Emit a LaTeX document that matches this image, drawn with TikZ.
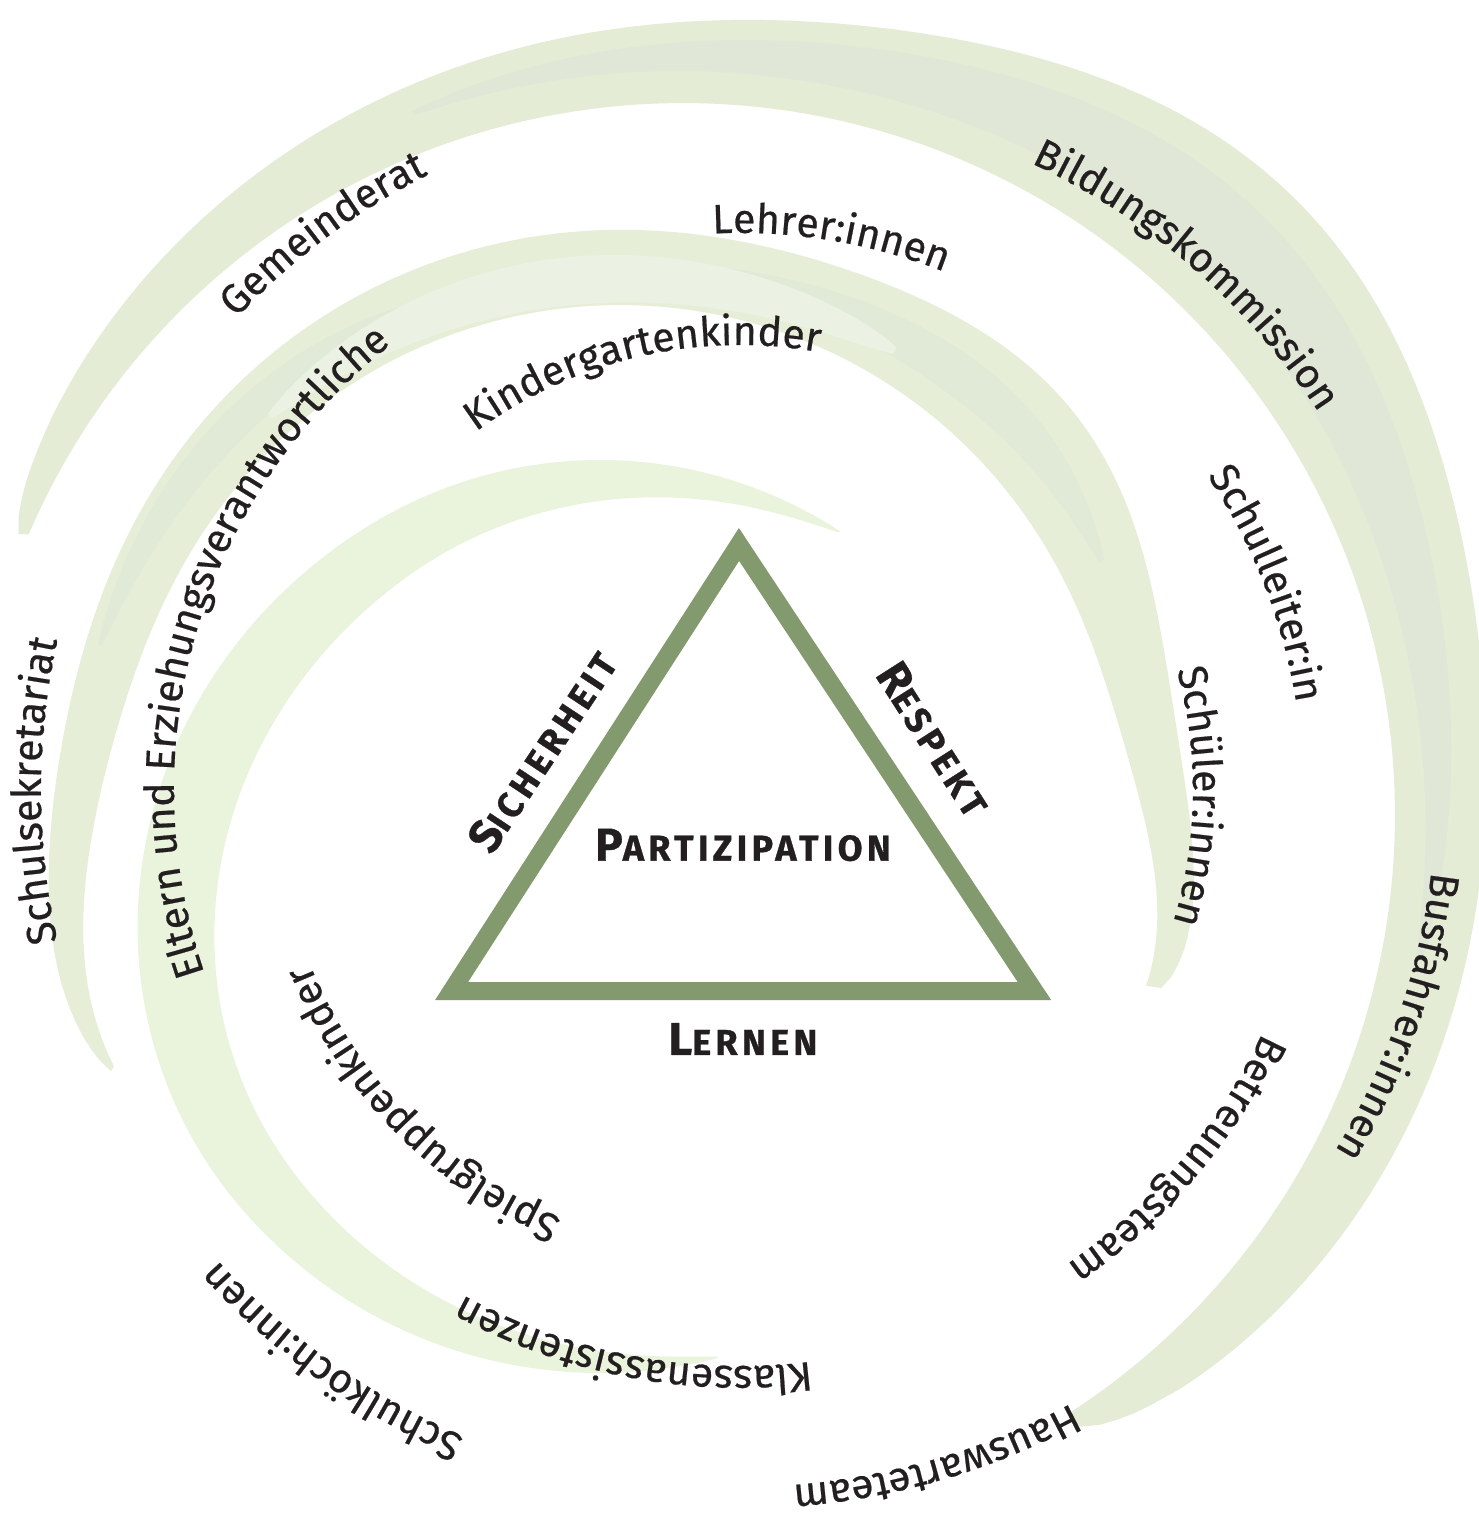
\documentclass[tikz,border=0pt]{standalone}
\usepackage{fontspec}
\setmainfont{Fira Sans}
\newfontfamily\arcfont{Fira Sans}[FakeBold=0.5]
\newfontfamily\capfont{Fira Sans}[LetterSpace=12,FakeBold=0.8]
\usetikzlibrary{decorations.text}
\definecolor{ink}{RGB}{35,31,32}
\definecolor{tricol}{RGB}{131,154,111}
\definecolor{sthree}{RGB}{228,236,214}
\definecolor{sthreedark}{RGB}{224,231,215}
\definecolor{stwo}{RGB}{230,238,216}
\definecolor{stwodark}{RGB}{225,233,215}
\definecolor{stwolight}{RGB}{236,242,227}
\definecolor{sone}{RGB}{234,243,219}
\newcommand\mysc[2]{{\fontsize{46}{46}\selectfont#1}{\fontsize{36}{36}\selectfont#2}}
\newcommand\arclabel[3]{%
  \path[decorate,decoration={text along path,text align=center,
    text={|\arcfont\fontsize{41}{41}\selectfont\color{ink}|#3}}]
    (ctr) ++(#2+80:#1) arc[start angle=#2+80, end angle=#2-80, radius=#1];}
% sub-band of the outer swoosh: colour, u start, u end, frac start, frac end, half width
\newcommand\sthreesub[6]{%
  \fill[#1] plot[domain=0.01:0.99,samples=70,variable=\v]
    ({683+rthree(#2+(#3-#2)*\v,#4+(#5-#4)*\v+#6*(sin(180*\v))^0.6)*cos(ththree(#2+(#3-#2)*\v))},
     {-815+rthree(#2+(#3-#2)*\v,#4+(#5-#4)*\v+#6*(sin(180*\v))^0.6)*sin(ththree(#2+(#3-#2)*\v))})
   -- plot[domain=0.99:0.01,samples=70,variable=\v]
    ({683+rthree(#2+(#3-#2)*\v,#4+(#5-#4)*\v-#6*(sin(180*\v))^0.6)*cos(ththree(#2+(#3-#2)*\v))},
     {-815+rthree(#2+(#3-#2)*\v,#4+(#5-#4)*\v-#6*(sin(180*\v))^0.6)*sin(ththree(#2+(#3-#2)*\v))})
   -- cycle;}
\newcommand\stwosub[6]{%
  \fill[#1] plot[domain=0.01:0.99,samples=70,variable=\v]
    ({620+rtwo(#2+(#3-#2)*\v,#4+(#5-#4)*\v+#6*(sin(180*\v))^0.6)*cos(thtwo(#2+(#3-#2)*\v))},
     {-800+rtwo(#2+(#3-#2)*\v,#4+(#5-#4)*\v+#6*(sin(180*\v))^0.6)*sin(thtwo(#2+(#3-#2)*\v))})
   -- plot[domain=0.99:0.01,samples=70,variable=\v]
    ({620+rtwo(#2+(#3-#2)*\v,#4+(#5-#4)*\v-#6*(sin(180*\v))^0.6)*cos(thtwo(#2+(#3-#2)*\v))},
     {-800+rtwo(#2+(#3-#2)*\v,#4+(#5-#4)*\v-#6*(sin(180*\v))^0.6)*sin(thtwo(#2+(#3-#2)*\v))})
   -- cycle;}
\begin{document}
\begin{tikzpicture}[x=1pt,y=1pt,
  declare function={
    wthree(\q)=145*(sin(180*\q))^0.4*(0.5+0.25*\q+0.45*exp(-min(((\q-0.52)/0.12)^2,20)));
    rthree(\q,\f)=712+wthree(\q)*\f;
    ththree(\q)=157.5-215.2*\q;
    rintwo(\q)=495+77*exp(-min((\q/0.12)^2,20))+63*exp(-min(((1-\q)/0.09)^2,20));
    wtwo(\q)=(75+40*exp(-min(((\q-0.74)/0.1)^2,20)))*(sin(180*\q))^(0.55-0.2*\q);
    rtwo(\q,\f)=rintwo(\q)+wtwo(\q)*\f;
    thtwo(\q)=208.5-228.4*\q;
    thone(\q)=56.4+228.6*\q;
    routone(\q)=440+16.5*(1-cos(180*min(max((thone(\q)-120)/100,0),1)));
    wone(\q)=78*(sin(180*\q))^0.8;
  },
  tlab/.style={font=\capfont\bfseries,text=ink,inner sep=0pt},
  tri/.style={draw=tricol,line width=18pt,miter limit=10,line join=miter}]
\useasboundingbox (0,0) rectangle (1479,-1520);
\fill[white] (0,0) rectangle (1479,-1520);
\coordinate (ctr) at (740,-790);

% outer swoosh
\fill[sthree] plot[domain=0.002:0.998,samples=160,variable=\u]
   ({683+rthree(\u,1)*cos(ththree(\u))},{-815+rthree(\u,1)*sin(ththree(\u))})
 -- plot[domain=0.998:0.002,samples=160,variable=\u]
   ({683+rthree(\u,0)*cos(ththree(\u))},{-815+rthree(\u,0)*sin(ththree(\u))}) -- cycle;
\sthreesub{sthreedark}{0.21}{0.79}{0.6}{0.45}{0.26}

% middle swoosh
\fill[stwo] plot[domain=0.002:0.998,samples=160,variable=\u]
   ({620+rtwo(\u,1)*cos(thtwo(\u))},{-800+rtwo(\u,1)*sin(thtwo(\u))})
 -- plot[domain=0.998:0.002,samples=160,variable=\u]
   ({620+rtwo(\u,0)*cos(thtwo(\u))},{-800+rtwo(\u,0)*sin(thtwo(\u))}) -- cycle;
\stwosub{stwodark}{0.195}{0.43}{0.75}{0.5}{0.22}
\stwosub{stwodark}{0.54}{0.8}{0.5}{0.5}{0.22}
\stwosub{stwolight}{0.33}{0.66}{0.35}{0.35}{0.32}

% inner swoosh
\fill[sone] plot[domain=0.002:0.998,samples=160,variable=\u]
   ({600+routone(\u)*cos(thone(\u))},{-900+routone(\u)*sin(thone(\u))})
 -- plot[domain=0.998:0.002,samples=160,variable=\u]
   ({600+(routone(\u)-wone(\u))*cos(thone(\u))},{-900+(routone(\u)-wone(\u))*sin(thone(\u))}) -- cycle;

% triangle
\coordinate (tl) at (451.6,-991);
\coordinate (tr) at (1034.4,-991);
\coordinate (tt) at (739,-544.5);
\draw[tri] (tl) -- (tr) -- (tt) -- cycle;

\node[tlab,rotate=56.5] (sich) at (542,-751) {\mysc{S}{ICHERHEIT}};
\node[tlab,rotate=-57.4] (resp) at (934,-739) {\mysc{R}{ESPEKT}};
\node[tlab] (part) at (743,-845) {\mysc{P}{ARTIZIPATION}};
\node[tlab] (lern) at (743,-1039) {\mysc{L}{ERNEN}};

% labels on arcs
\arclabel{690}{126.85}{Gemeinderat}
\arclabel{557}{80.65}{Lehrer:innen}
\arclabel{691}{49.1}{Bildungskommission}
\arclabel{445}{103.1}{Kindergartenkinder}
\arclabel{566}{163.45}{Eltern und Erziehungsverantwortliche}
\arclabel{699}{180.05}{Schulsekretariat}
\arclabel{563}{21.4}{Schulleiter:in}
\arclabel{453}{-0.8}{Schüler:innen}
\arclabel{696}{-19.0}{Busfahrer:innen}
\arclabel{576}{-40.2}{Betreuungsteam}
\arclabel{697}{-73.65}{Hauswarteteam}
\arclabel{576}{-100.85}{Klassenassistenzen}
\arclabel{464}{-135.3}{Spielgruppenkinder}
\arclabel{703}{-125.55}{Schulköch:innen}
\end{tikzpicture}
\end{document}
